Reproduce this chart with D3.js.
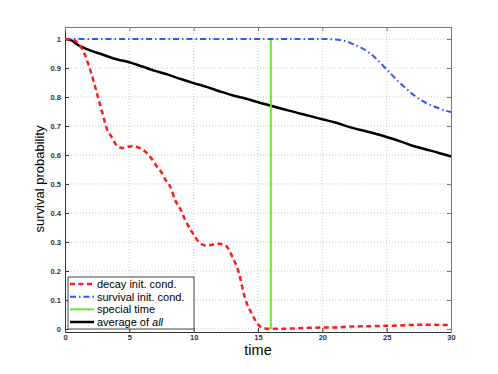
<!DOCTYPE html>
<html>
<head>
<meta charset="utf-8">
<script src="https://cdn.jsdelivr.net/npm/d3@7"></script>
<style>
  body { margin: 0; background: #fff; }
  text { font-family: "Liberation Sans", Arial, sans-serif; }
</style>
</head>
<body>
<svg width="498" height="374"></svg>
<script>
// decay init. cond.
var decayT = [0, 0.5, 1, 1.5, 2, 2.5, 3, 3.25, 3.6, 3.9, 4.4, 5.2, 5.8, 6.35, 6.75, 7.1, 7.5, 7.8, 8.2, 8.55, 8.95, 9.35, 9.75, 10, 10.5, 11, 11.5, 12, 12.5, 13, 13.5, 14, 14.5, 15, 15.5, 16, 17, 18, 19, 20, 21, 22, 23, 24, 25, 26, 27, 28, 29, 30];
var decayV = [1, 0.998, 0.987, 0.95, 0.888, 0.81, 0.73, 0.69, 0.664, 0.64, 0.624, 0.63, 0.624, 0.607, 0.586, 0.563, 0.54, 0.515, 0.489, 0.445, 0.415, 0.375, 0.343, 0.325, 0.296, 0.288, 0.291, 0.294, 0.287, 0.25, 0.195, 0.105, 0.054, 0.016, 0.002, 0.001, 0.001, 0.002, 0.004, 0.005, 0.005, 0.008, 0.009, 0.01, 0.011, 0.012, 0.014, 0.015, 0.014, 0.014];

// survival init. cond.
var survT = [0, 5, 10, 15, 20, 21, 22, 22.5, 23, 23.5, 24, 24.5, 25, 25.5, 26, 26.5, 27, 27.5, 28, 28.5, 29, 29.5, 30];
var survV = [1, 1, 1, 1, 1, 0.998, 0.99, 0.98, 0.97, 0.957, 0.94, 0.918, 0.895, 0.872, 0.85, 0.83, 0.81, 0.794, 0.781, 0.771, 0.762, 0.754, 0.748];

// average of all
var avgT = [0, 0.5, 1, 2, 3, 4, 5, 6, 7, 8, 9, 10, 11, 12, 13, 14, 15, 16, 17, 18, 19, 20, 21, 22, 23, 24, 25, 26, 27, 28, 29, 30];
var avgV = [1, 0.995, 0.98, 0.96, 0.945, 0.93, 0.92, 0.905, 0.89, 0.877, 0.862, 0.848, 0.835, 0.82, 0.806, 0.795, 0.782, 0.77, 0.758, 0.746, 0.735, 0.723, 0.712, 0.698, 0.686, 0.675, 0.662, 0.648, 0.632, 0.62, 0.608, 0.595];

var specialTime = 16;

var xTicks = [0, 5, 10, 15, 20, 25, 30];
var yTicks = [0, 0.1, 0.2, 0.3, 0.4, 0.5, 0.6, 0.7, 0.8, 0.9, 1];
var legendLabels = ["decay init. cond.", "survival init. cond.", "special time", "average of "];

var svg = d3.select("svg");
var pLeft = 65, pRight = 451, pTop = 27, pBottom = 332;

var x = d3.scaleLinear().domain([0, 30]).range([pLeft, pRight]);
var y = d3.scaleLinear().domain([-0.0104, 1.0414]).range([pBottom, pTop]);

// grid
var grid = svg.append("g").attr("stroke", "#bbb").attr("stroke-dasharray", "1,2").attr("stroke-width", 0.8);
grid.selectAll(".gx").data(xTicks.slice(1, -1)).enter().append("line")
  .attr("x1", d => x(d)).attr("x2", d => x(d)).attr("y1", pTop).attr("y2", pBottom);
grid.selectAll(".gy").data(yTicks).enter().append("line")
  .attr("x1", pLeft).attr("x2", pRight).attr("y1", d => y(d)).attr("y2", d => y(d));

// axes, ticks pointing inward on all sides
var fmt = d3.format("");
var axB = svg.append("g").attr("transform", "translate(0," + pBottom + ")")
  .call(d3.axisBottom(x).tickValues(xTicks).tickSize(-4).tickSizeOuter(0).tickPadding(3).tickFormat(fmt));
var axL = svg.append("g").attr("transform", "translate(" + pLeft + ",0)")
  .call(d3.axisLeft(y).tickValues(yTicks).tickSize(-4).tickSizeOuter(0).tickPadding(4).tickFormat(fmt));
var axT = svg.append("g").attr("transform", "translate(0," + pTop + ")")
  .call(d3.axisTop(x).tickValues(xTicks).tickSize(-4).tickSizeOuter(0).tickFormat(""));
var axR = svg.append("g").attr("transform", "translate(" + pRight + ",0)")
  .call(d3.axisRight(y).tickValues(yTicks).tickSize(-4).tickSizeOuter(0).tickFormat(""));

[axB, axL].forEach(function(a) {
  a.selectAll("path").attr("stroke", "#333");
  a.selectAll("line").attr("stroke", "#333");
  a.selectAll("text").attr("font-size", "7.5px").attr("fill", "#333").attr("font-weight", "bold")
    .style("font-family", "Liberation Sans, Arial, sans-serif");
});
[axT, axR].forEach(function(a) {
  a.selectAll("path").attr("stroke", "#777");
  a.selectAll("line").attr("stroke", "#777");
});

// lines
var line = d3.line().x(d => x(d[0])).y(d => y(d[1])).curve(d3.curveMonotoneX);

var decay = d3.zip(decayT, decayV);
var surv = d3.zip(survT, survV);
var avg = d3.zip(avgT, avgV);

svg.append("path").datum(avg).attr("d", line)
  .attr("fill", "none").attr("stroke", "#000").attr("stroke-width", 2.5);

svg.append("line")
  .attr("x1", x(specialTime)).attr("x2", x(specialTime))
  .attr("y1", y(0)).attr("y2", y(1))
  .attr("stroke", "#66ee22").attr("stroke-width", 2);

svg.append("path").datum(surv).attr("d", line)
  .attr("fill", "none").attr("stroke", "#3355ff").attr("stroke-width", 2)
  .attr("stroke-dasharray", "6,3,1.5,3");

svg.append("path").datum(decay).attr("d", line)
  .attr("fill", "none").attr("stroke", "#ff1a1a").attr("stroke-width", 2.5)
  .attr("stroke-dasharray", "5,3.5");

// axis labels
svg.append("text").attr("x", (pLeft + pRight) / 2).attr("y", 355)
  .attr("text-anchor", "middle").attr("font-size", "14.5px").text("time");
svg.append("text").attr("transform", "translate(44,179) rotate(-90)")
  .attr("text-anchor", "middle").attr("font-size", "13px").text("survival probability");

// legend
var lg = svg.append("g");
lg.append("rect").attr("x", 68).attr("y", 277).attr("width", 126).attr("height", 52)
  .attr("fill", "#fff").attr("stroke", "#444").attr("stroke-width", 1);
var styles = [
  {c: "#ff1a1a", w: 2.5, d: "5,3.5"},
  {c: "#3355ff", w: 2, d: "6,3,1.5,3"},
  {c: "#66ee22", w: 2, d: null},
  {c: "#000", w: 2.5, d: null}
];
var ly = d3.scaleLinear().domain([0, 3]).range([284, 322]);
var ent = lg.selectAll(".ent").data(legendLabels).enter().append("g");
ent.append("line").attr("x1", 70).attr("x2", 94)
  .attr("y1", (d, i) => ly(i)).attr("y2", (d, i) => ly(i))
  .attr("stroke", (d, i) => styles[i].c).attr("stroke-width", (d, i) => styles[i].w)
  .attr("stroke-dasharray", (d, i) => styles[i].d);
var lt = ent.append("text").attr("x", 97).attr("y", (d, i) => ly(i) + 4)
  .attr("font-size", "11px").text(d => d);
lt.filter((d, i) => i === 3).append("tspan").attr("font-style", "italic").text("all");
</script>
</body>
</html>
